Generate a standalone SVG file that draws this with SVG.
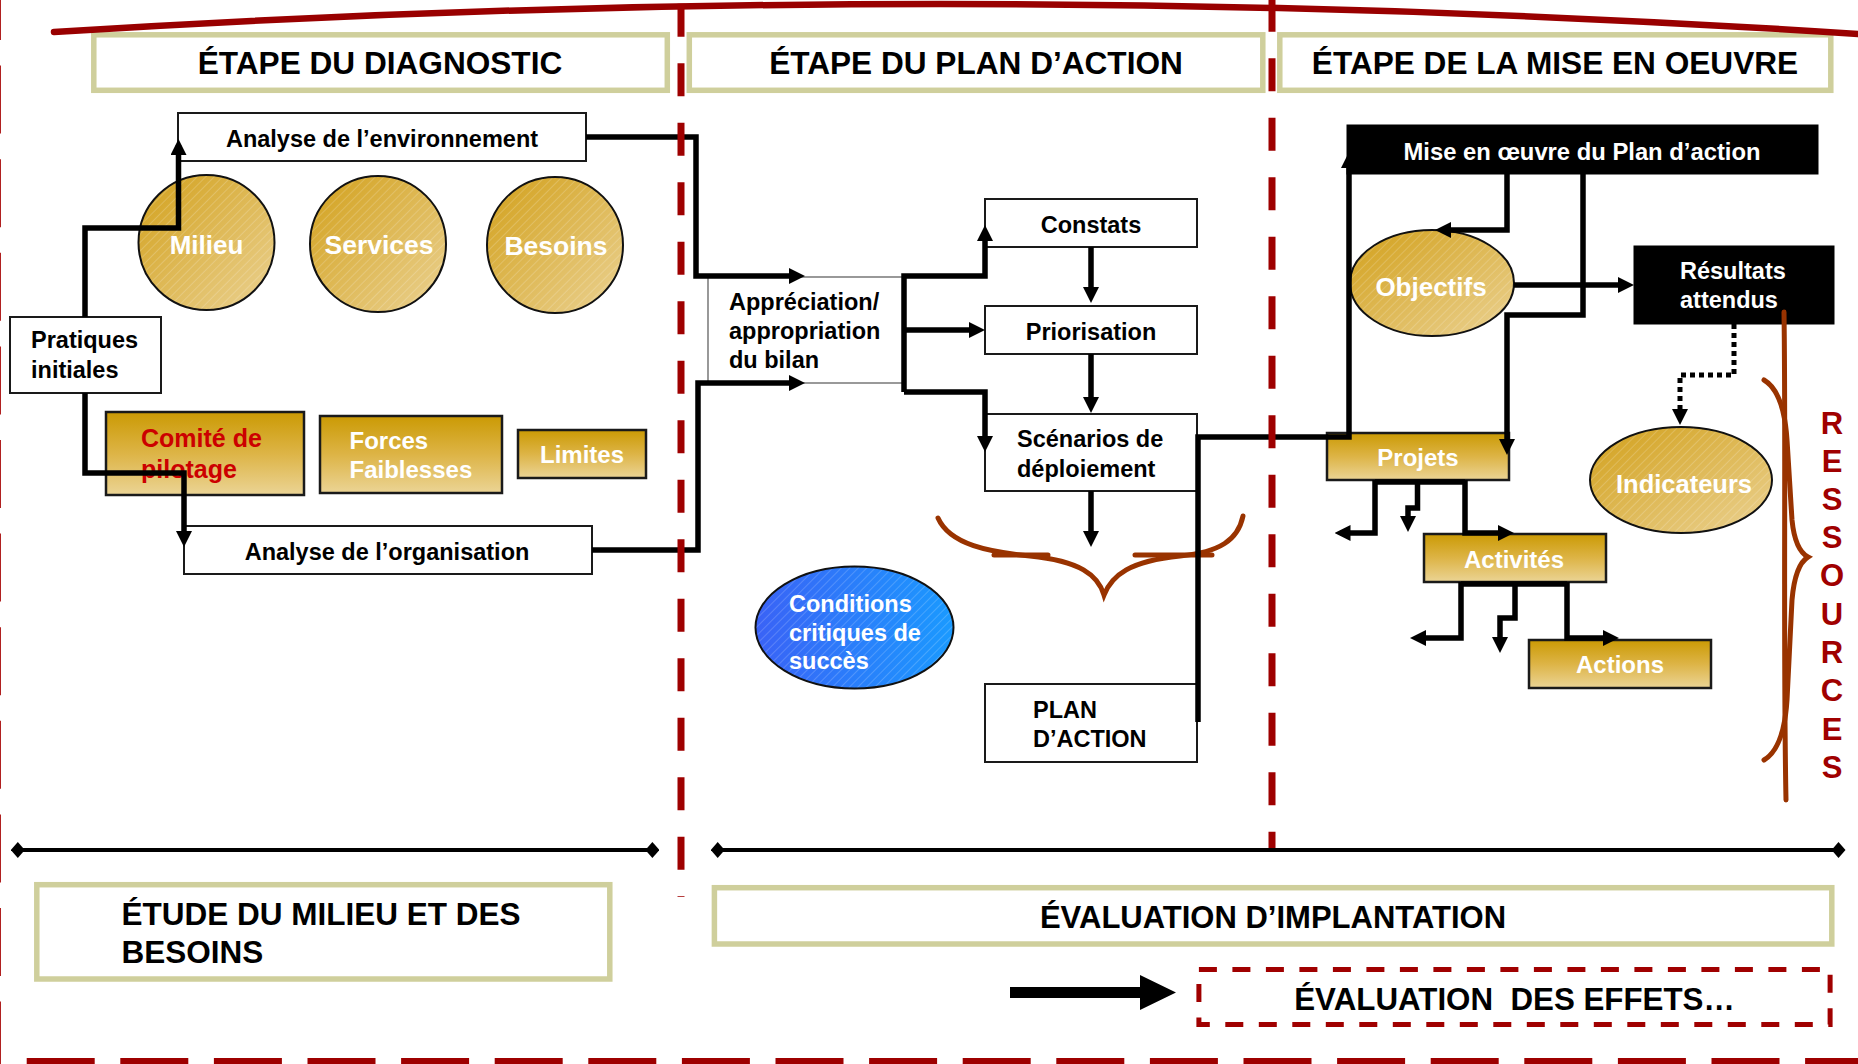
<svg xmlns="http://www.w3.org/2000/svg" width="1858" height="1064" viewBox="0 0 1858 1064">
<defs>
<style>
.t{font-family:"Liberation Sans",Arial,Helvetica,sans-serif;font-weight:bold}
.hdr{font-size:31.6px;fill:#000;text-anchor:middle}
.hbox{fill:#fff;stroke:#CFCF9C;stroke-width:5.5}
.wbox{fill:#fff;stroke:#1a1a1a;stroke-width:2}
.bbox{fill:#000;stroke:#000;stroke-width:1}
.gbox{fill:url(#gv);stroke:#1a1a1a;stroke-width:2.5}
.gell{fill:url(#gd);stroke:#111;stroke-width:2}
.hatch{fill:url(#hp);stroke:none}
.lbl{font-size:23.5px;fill:#000}
.wl{fill:#fff}
.conn{fill:none;stroke:#000;stroke-width:5.5;stroke-linejoin:miter}
.dot{fill:none;stroke:#000;stroke-width:5;stroke-dasharray:5 4}
.sep{fill:none;stroke:#9E0000;stroke-width:7;stroke-dasharray:33 26.5}
.brown{fill:none;stroke:#993300;stroke-width:5;stroke-linecap:round}
.tl{fill:none;stroke:#000;stroke-width:4}
</style>
<linearGradient id="gv" x1="0" y1="0" x2="0" y2="1">
<stop offset="0" stop-color="#CB9A04"/>
<stop offset="0.5" stop-color="#DDB446"/>
<stop offset="1" stop-color="#EBD495"/>
</linearGradient>
<linearGradient id="gd" x1="0" y1="0" x2="1" y2="1">
<stop offset="0" stop-color="#D2A01A"/>
<stop offset="1" stop-color="#EBD293"/>
</linearGradient>
<linearGradient id="bl" x1="0" y1="0" x2="1" y2="0">
<stop offset="0" stop-color="#3A62F6"/>
<stop offset="1" stop-color="#1A9AFF"/>
</linearGradient>
<pattern id="hp" width="6" height="6" patternUnits="userSpaceOnUse" patternTransform="rotate(45)">
<rect width="1" height="6" fill="#fff" fill-opacity="0.18"/>
</pattern>
<marker id="ah" viewBox="0 0 16 16" refX="10" refY="8" markerWidth="16" markerHeight="16" markerUnits="userSpaceOnUse" orient="auto">
<path d="M0,0 L16,8 L0,16 z" fill="#000"/>
</marker>
<marker id="dia" viewBox="0 0 14 16" refX="7" refY="8" markerWidth="14" markerHeight="16" markerUnits="userSpaceOnUse" orient="auto">
<path d="M0,8 L7,0 L14,8 L7,16 z" fill="#000"/>
</marker>
</defs>
<rect x="0" y="0" width="1858" height="1064" fill="#fff"/>

<g id="headers">
<g id="h-diag"><rect class="hbox" x="93.8" y="34.8" width="573.5" height="55.5"/><text class="t hdr" x="380" y="74">ÉTAPE DU DIAGNOSTIC</text></g>
<g id="h-plan"><rect class="hbox" x="689.3" y="34.8" width="573.5" height="55.5"/><text class="t hdr" x="976" y="74">ÉTAPE DU PLAN D’ACTION</text></g>
<g id="h-mise"><rect class="hbox" x="1279.8" y="34.8" width="551" height="55.5"/><text class="t hdr" x="1555" y="74">ÉTAPE DE LA MISE EN OEUVRE</text></g>
</g>

<g id="nodes">
<g id="env"><rect class="wbox" x="178" y="113" width="408" height="48"/><text class="t lbl" x="382" y="147" text-anchor="middle">Analyse de l’environnement</text></g>
<g id="milieu"><ellipse class="gell" cx="206.5" cy="242.5" rx="68" ry="67.5"/><ellipse class="hatch" cx="206.5" cy="242.5" rx="67" ry="66.5"/><text class="t wl" x="206.5" y="254" font-size="26" text-anchor="middle">Milieu</text></g>
<g id="services"><ellipse class="gell" cx="378" cy="244" rx="68" ry="68"/><ellipse class="hatch" cx="378" cy="244" rx="67" ry="67"/><text class="t wl" x="379" y="254" font-size="26.5" text-anchor="middle">Services</text></g>
<g id="besoins"><ellipse class="gell" cx="555" cy="245" rx="68" ry="68"/><ellipse class="hatch" cx="555" cy="245" rx="67" ry="67"/><text class="t wl" x="556" y="255" font-size="26.5" text-anchor="middle">Besoins</text></g>
<g id="pratiques"><rect class="wbox" x="10" y="317" width="151" height="76"/><text class="t lbl" font-size="22.5"><tspan x="31" y="348">Pratiques</tspan><tspan x="31" y="378">initiales</tspan></text></g>
<g id="comite"><rect class="gbox" x="106" y="412" width="198" height="83"/><text class="t" font-size="25" fill="#CC0000"><tspan x="141" y="447">Comité de</tspan><tspan x="141" y="478">pilotage</tspan></text></g>
<g id="forces"><rect class="gbox" x="320" y="416" width="182" height="77"/><text class="t wl" font-size="24"><tspan x="349.5" y="449">Forces</tspan><tspan x="349.5" y="478">Faiblesses</tspan></text></g>
<g id="limites"><rect class="gbox" x="518" y="430" width="128" height="48"/><text class="t wl" x="582" y="463" font-size="24" text-anchor="middle">Limites</text></g>
<g id="org"><rect class="wbox" x="184" y="526" width="408" height="48"/><text class="t lbl" x="387" y="560" text-anchor="middle">Analyse de l’organisation</text></g>

<g id="appreciation"><rect x="708" y="277" width="196" height="106" fill="#fff" stroke="#555" stroke-width="1.2"/><text class="t lbl"><tspan x="729" y="310">Appréciation/</tspan><tspan x="729" y="339">appropriation</tspan><tspan x="729" y="368">du bilan</tspan></text></g>
<g id="constats"><rect class="wbox" x="985" y="199" width="212" height="48"/><text class="t lbl" x="1091" y="233" text-anchor="middle">Constats</text></g>
<g id="priorisation"><rect class="wbox" x="985" y="306" width="212" height="48"/><text class="t lbl" x="1091" y="340" text-anchor="middle">Priorisation</text></g>
<g id="scenarios"><rect class="wbox" x="985" y="414" width="212" height="77"/><text class="t lbl"><tspan x="1017" y="447">Scénarios de</tspan><tspan x="1017" y="477">déploiement</tspan></text></g>
<g id="conditions"><ellipse cx="854.5" cy="627.5" rx="99" ry="61" fill="url(#bl)" stroke="#111" stroke-width="2"/><ellipse class="hatch" cx="854.5" cy="627.5" rx="98" ry="60"/><text class="t wl" font-size="23.5"><tspan x="789" y="612">Conditions</tspan><tspan x="789" y="641">critiques de</tspan><tspan x="789" y="669">succès</tspan></text></g>
<g id="plan"><rect class="wbox" x="985" y="684" width="212" height="78"/><text class="t lbl"><tspan x="1033" y="718">PLAN</tspan><tspan x="1033" y="747">D’ACTION</tspan></text></g>

<g id="mise"><rect class="bbox" x="1347" y="125" width="471" height="49"/><text class="t wl" x="1582" y="160" font-size="23.8" text-anchor="middle">Mise en œuvre du Plan d’action</text></g>
<g id="objectifs"><ellipse class="gell" cx="1432" cy="283" rx="82" ry="53"/><ellipse class="hatch" cx="1432" cy="283" rx="81" ry="52"/><text class="t wl" x="1431" y="296" font-size="26" text-anchor="middle">Objectifs</text></g>
<g id="resultats"><rect class="bbox" x="1634" y="246" width="200" height="78"/><text class="t wl" font-size="23.5"><tspan x="1680" y="279">Résultats</tspan><tspan x="1680" y="308">attendus</tspan></text></g>
<g id="indicateurs"><ellipse class="gell" cx="1681" cy="480" rx="91" ry="53"/><ellipse class="hatch" cx="1681" cy="480" rx="90" ry="52"/><text class="t wl" x="1684" y="493" font-size="25.5" text-anchor="middle">Indicateurs</text></g>
<g id="projets"><rect class="gbox" x="1327" y="433" width="182" height="47"/><text class="t wl" x="1418" y="466" font-size="24" text-anchor="middle">Projets</text></g>
<g id="activites"><rect class="gbox" x="1424" y="534" width="182" height="48"/><text class="t wl" x="1514" y="568" font-size="24" text-anchor="middle">Activités</text></g>
<g id="actions"><rect class="gbox" x="1529" y="640" width="182" height="48"/><text class="t wl" x="1620" y="673" font-size="24" text-anchor="middle">Actions</text></g>

<g id="ressources">
<path class="brown" d="M1784,312 C1786,450 1783,650 1786,800"/>
<path class="brown" d="M1764,380 Q1784,392 1787,440 L1792,520 Q1795,550 1808,557 Q1795,565 1792,600 L1787,700 Q1784,748 1764,760"/>
<text class="t" font-size="31" fill="#A00000" text-anchor="middle"><tspan x="1832" y="434">R</tspan><tspan x="1832" y="472">E</tspan><tspan x="1832" y="510">S</tspan><tspan x="1832" y="548">S</tspan><tspan x="1832" y="586">O</tspan><tspan x="1832" y="625">U</tspan><tspan x="1832" y="663">R</tspan><tspan x="1832" y="701">C</tspan><tspan x="1832" y="740">E</tspan><tspan x="1832" y="778">S</tspan></text>
</g>
<g id="brace">
<path class="brown" d="M938,518 C950,545 990,552 1030,556 C1080,561 1098,575 1104,595 C1112,575 1130,561 1180,556 C1220,552 1238,540 1243,516"/>
<path class="brown" d="M994,555 L1048,555 M1135,555 L1212,555" stroke-width="5.5"/>
</g>
</g>

<g id="connectors">
<path class="conn" d="M85,317 L85,228 L178.5,228 L178.5,145" marker-end="url(#ah)"/>
<path class="conn" d="M85,393 L85,473 L184,473 L184,541" marker-end="url(#ah)"/>
<path class="conn" d="M586,137 L696,137 L696,276 L799,276" marker-end="url(#ah)"/>
<path class="conn" d="M592,550 L698,550 L698,383 L799,383" marker-end="url(#ah)"/>
<path class="conn" d="M904,392 L904,276 L985,276 L985,231" marker-end="url(#ah)"/>
<path class="conn" d="M904,330 L979,330" marker-end="url(#ah)"/>
<path class="conn" d="M904,392 L985,392 L985,446" marker-end="url(#ah)"/>
<path class="conn" d="M1091,247 L1091,297" marker-end="url(#ah)"/>
<path class="conn" d="M1091,354 L1091,407" marker-end="url(#ah)"/>
<path class="conn" d="M1091,491 L1091,541" marker-end="url(#ah)"/>
<path class="conn" d="M1198,722 L1198,437 L1349,437 L1349,158" marker-end="url(#ah)"/>
<path class="conn" d="M1507,174 L1507,230 L1441,230" marker-end="url(#ah)"/>
<path class="conn" d="M1583,174 L1583,315 L1507,315 L1507,449" marker-end="url(#ah)"/>
<path class="conn" d="M1514,285 L1628,285" marker-end="url(#ah)"/>
<path class="dot" d="M1734,324 L1734,375 L1680,375 L1680,419" marker-end="url(#ah)"/>
<path class="conn" d="M1375,482 L1465,482"/>
<path class="conn" d="M1375,480 L1375,533 L1340.5,533" marker-end="url(#ah)"/>
<path class="conn" d="M1417.5,480 L1417.5,508 L1408,508 L1408,526" marker-end="url(#ah)"/>
<path class="conn" d="M1465,480 L1465,533 L1508,533" marker-end="url(#ah)"/>
<path class="conn" d="M1461,584 L1567,584"/>
<path class="conn" d="M1461,582 L1461,638 L1416,638" marker-end="url(#ah)"/>
<path class="conn" d="M1515,582 L1515,618 L1500,618 L1500,647" marker-end="url(#ah)"/>
<path class="conn" d="M1567,582 L1567,638 L1613,638" marker-end="url(#ah)"/>
</g>

<g id="separators">
<path d="M54,32 Q956,-25 1858,34" fill="none" stroke="#990000" stroke-width="6.5" stroke-linecap="round"/>
<path class="sep" d="M681,3.8 L681,897"/>
<path class="sep" d="M1272,-1.2 L1272,850"/>
<path d="M-3,0 L-3,1064" fill="none" stroke="#B02020" stroke-width="8" stroke-dasharray="68 25.6" stroke-dashoffset="28"/>
<path d="M26.7,1062 L1858,1062" fill="none" stroke="#9E0000" stroke-width="8" stroke-dasharray="68 25.6"/>
</g>

<g id="bottom">
<path class="tl" d="M17.8,850 L652.4,850" marker-start="url(#dia)" marker-end="url(#dia)"/>
<path class="tl" d="M717.7,850 L1838.5,850" marker-start="url(#dia)" marker-end="url(#dia)"/>
<g id="etude"><rect class="hbox" x="36.8" y="884.7" width="573" height="94.3" stroke-width="6"/><text class="t" font-size="31.5" fill="#000"><tspan x="121.6" y="925">ÉTUDE DU MILIEU ET DES</tspan><tspan x="121.6" y="963">BESOINS</tspan></text></g>
<g id="eval-impl"><rect class="hbox" x="714.4" y="887.7" width="1117.4" height="56.3"/><text class="t" x="1273" y="928" font-size="31" fill="#000" text-anchor="middle">ÉVALUATION D’IMPLANTATION</text></g>
<polygon id="big-arrow" points="1010,987 1140,987 1140,975 1176,992.5 1140,1010 1140,998 1010,998" fill="#000"/>
<g id="eval-effets"><rect x="1198.9" y="969.5" width="631.2" height="55" fill="#fff" stroke="#A00000" stroke-width="5" stroke-dasharray="18 15.5"/><text class="t" x="1514.5" y="1010" font-size="31.3" fill="#000" text-anchor="middle" style="white-space:pre">ÉVALUATION  DES EFFETS…</text></g>
</g>
</svg>
